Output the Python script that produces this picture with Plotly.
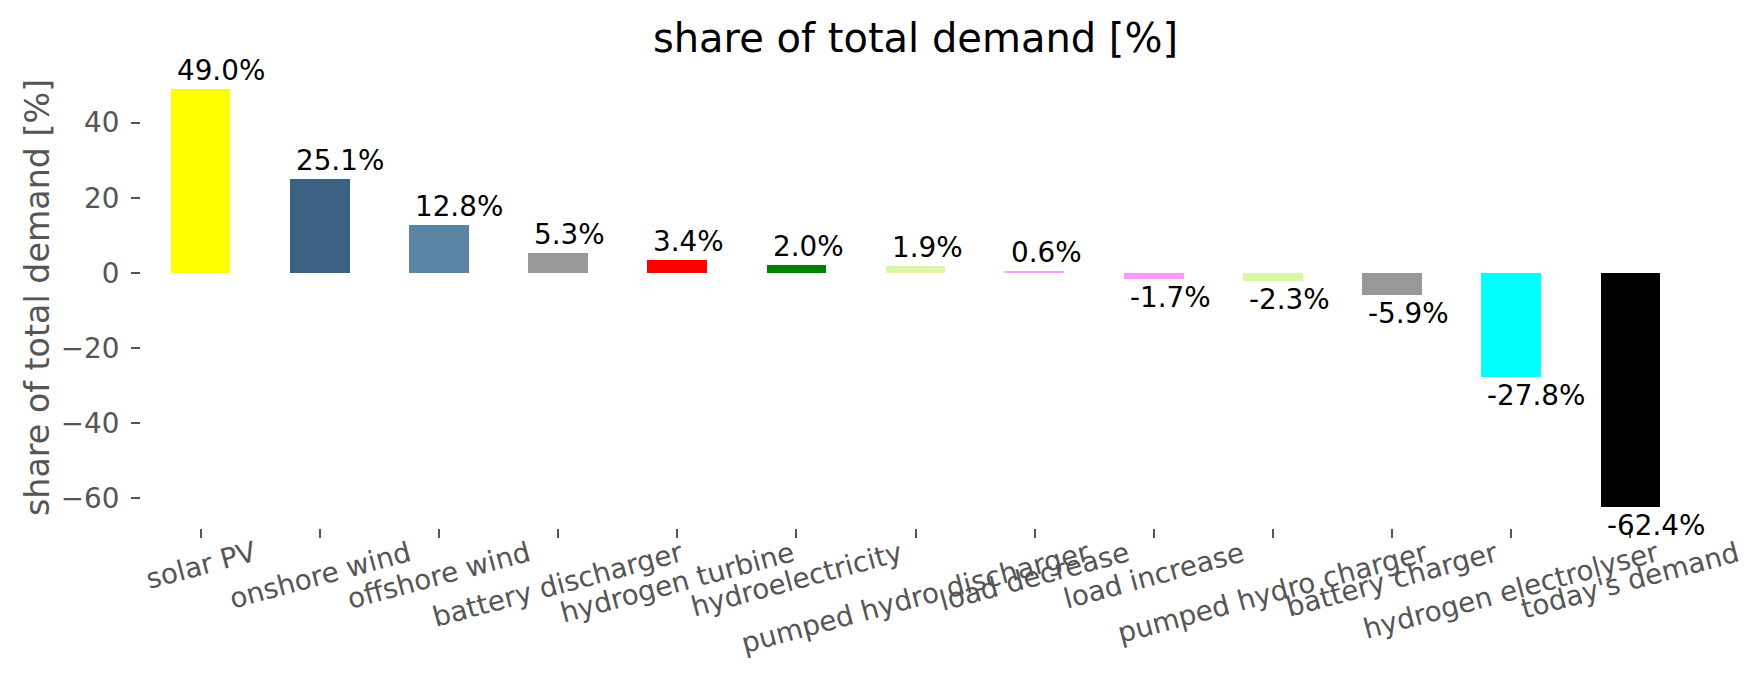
import plotly.graph_objects as go

categories = ["solar PV", "onshore wind", "offshore wind", "battery discharger",
              "hydrogen turbine", "hydroelectricity", "pumped hydro discharger",
              "load decrease", "load increase", "pumped hydro charger",
              "battery charger", "hydrogen electrolyser", "today's demand"]
shares = [49.0, 25.1, 12.8, 5.3, 3.4, 2.0, 1.9, 0.6, -1.7, -2.3, -5.9, -27.8, -62.4]
colors = ["#ffff00", "#3b6182", "#5b83a3", "#999999", "#ff0000", "#008000",
          "#d9f7a6", "#ff9bff", "#ff9bff", "#d9f7a6", "#999999", "#00ffff", "#000000"]
y_ticks = [-60, -40, -20, 0, 20, 40]

font = "DejaVu Sans"
grey = "#555555"

fig = go.Figure()
fig.add_trace(go.Bar(x=list(range(len(categories))), y=shares, marker_color=colors,
                     marker_line_width=0, width=0.5, showlegend=False))

# value labels, left-aligned near the bar edge like ax.annotate
for i, v in enumerate(shares):
    fig.add_annotation(x=i - 0.25, y=v, text=f"{v:.1f}%", showarrow=False,
                       xanchor="left", yanchor="bottom" if v >= 0 else "top",
                       xshift=4, font=dict(family=font, size=27.8, color="black"))

# rotated category labels (centred under each tick, like matplotlib rotation=15)
for i, c in enumerate(categories):
    fig.add_annotation(x=i, y=0, yref="paper", text=c, showarrow=False,
                       textangle=-15, xanchor="center", yanchor="top", yshift=-5,
                       font=dict(family=font, size=27.8, color=grey))

# y axis label
fig.add_annotation(x=0, xref="paper", y=0.5, yref="paper", text="share of total demand [%]",
                   showarrow=False, textangle=-90, xanchor="center", yanchor="middle",
                   xshift=-104, font=dict(family=font, size=33.3, color=grey))

lo, hi = min(shares), max(shares)
pad = (hi - lo) * 0.05

fig.update_layout(
    width=1764, height=689,
    margin=dict(l=133, r=82, t=60, b=169),
    paper_bgcolor="white", plot_bgcolor="white",
    title=dict(text="share of total demand [%]", x=0.5, xref="paper", xanchor="center",
               y=1 - 30 / 689, yref="container", yanchor="middle",
               font=dict(family=font, size=40, color="black")),
    bargap=0,
)
fig.update_xaxes(range=[-0.5, len(categories) - 0.5], tickmode="array",
                 tickvals=list(range(len(categories))), showticklabels=False,
                 ticks="outside", ticklen=9, tickwidth=1.6, tickcolor=grey,
                 showgrid=False, zeroline=False, showline=False)
fig.update_yaxes(range=[lo - pad, hi + pad], tickmode="array", tickvals=y_ticks,
                 ticks="outside", ticklen=9, tickwidth=1.6, tickcolor=grey,
                 tickfont=dict(family=font, size=27.8, color=grey), ticklabelstandoff=6,
                 showgrid=False, zeroline=False, showline=False)

fig.write_html("out.html")
